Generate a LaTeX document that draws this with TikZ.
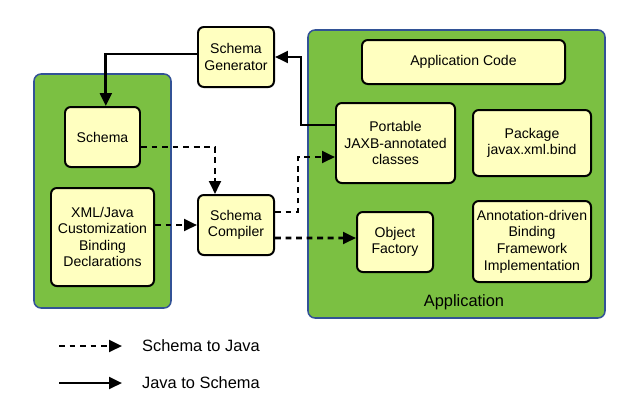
\documentclass[tikz,border=0pt]{standalone}
\usepackage{fontspec}
\setmainfont{Liberation Sans}
\usetikzlibrary{arrows.meta}
\definecolor{appgreen}{RGB}{123,192,66}
\definecolor{appblue}{RGB}{50,82,150}
\definecolor{boxyellow}{RGB}{255,255,192}
\tikzset{
  container/.style={draw=appblue, line width=1.3pt, fill=appgreen, rounded corners=6pt},
  part/.style={draw=black, line width=1.7pt, fill=boxyellow, rounded corners=5pt,
    align=center, inner sep=1pt, font=\fontsize{12}{14.2}\selectfont},
  tojava/.style={line width=2.3pt, dash pattern=on 5pt off 4pt, -{Triangle[length=11pt,width=10pt]}},
  toschema/.style={line width=2.3pt, -{Triangle[length=11pt,width=10pt]}}
}
\begin{document}
\begin{tikzpicture}[x=0.03cm,y=-0.03cm]
\useasboundingbox (0,0) rectangle (621,409);
% the two containers
\draw[container] (34,74) rectangle (171,308);
\draw[container] (308,30) rectangle (605,318);
\node[font=\fontsize{14}{16}\selectfont] (app) at (464,302) {Application};
% boxes
\node[part, minimum width=2.28cm, minimum height=1.8cm] (gen) at (236,57) {Schema\\Generator};
\node[part, minimum width=2.25cm, minimum height=1.8cm] (schema) at (102.5,137) {Schema};
\node[part, minimum width=3.09cm, minimum height=2.94cm] (xml) at (102.5,237) {XML/Java\\Customization\\Binding\\Declarations};
\node[part, minimum width=2.28cm, minimum height=1.8cm] (comp) at (236,225) {Schema\\Compiler};
\node[part, minimum width=6.09cm, minimum height=1.32cm] (code) at (463.5,62) {Application Code};
\node[part, minimum width=3.57cm, minimum height=2.4cm] (jaxb) at (395.5,143) {Portable\\JAXB-annotated\\classes};
\node[part, minimum width=3.54cm, minimum height=1.98cm] (pkg) at (532,143) {Package\\javax.xml.bind};
\node[part, minimum width=2.28cm, minimum height=1.8cm] (objf) at (395,242) {Object\\Factory};
\node[part, minimum width=3.54cm, minimum height=2.43cm] (impl) at (532,241.5) {Annotation-driven\\Binding\\Framework\\Implementation};
% java to schema
\draw[toschema] ([yshift=0.54cm]jaxb.west) -- ++(-34,0) |- (gen.east);
\draw[toschema] ([yshift=0.09cm]gen.west) -| ([xshift=0.1cm]schema.north);
% schema to java
\draw[tojava] ([yshift=-0.3cm]schema.east) -| ([xshift=-0.63cm]comp.north);
\draw[tojava] (comp.west -| xml.east) -- (comp.west);
\draw[tojava] ([yshift=0.39cm]comp.east) -- ++(23,0) |- ([yshift=-0.42cm]jaxb.west);
\draw[tojava] ([yshift=-0.39cm]comp.east) -- ([yshift=0.12cm]objf.west);
% legend
\coordinate (leg1) at (59,346);
\coordinate (leg2) at (59,383);
\node[anchor=west, font=\fontsize{14}{16}\selectfont] (s2j) at (138,346) {Schema to Java};
\node[anchor=west, font=\fontsize{14}{16}\selectfont] (j2s) at (138,383) {Java to Schema};
\draw[tojava] (leg1) -- ([xshift=-0.48cm]s2j.west);
\draw[toschema] (leg2) -- ([xshift=-0.48cm]j2s.west);
\end{tikzpicture}
\end{document}
